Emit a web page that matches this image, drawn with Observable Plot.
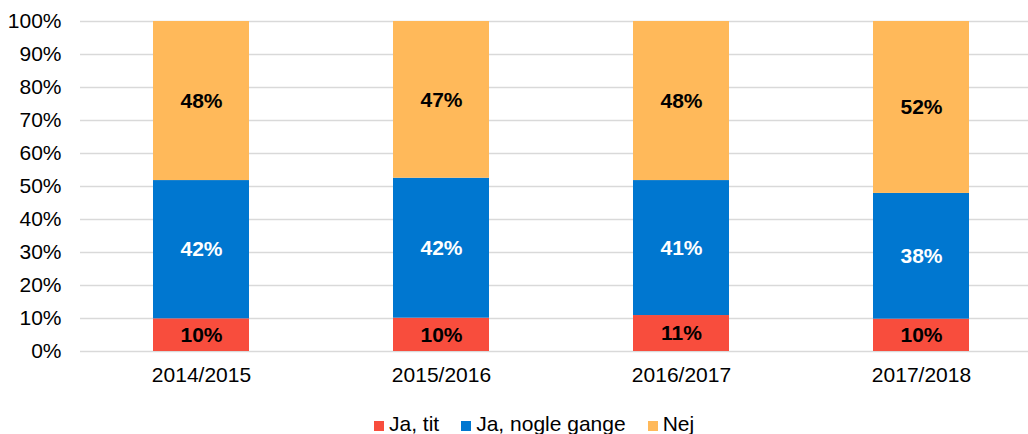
<!DOCTYPE html>
<html>
<head>
<meta charset="utf-8">
<script src="https://cdn.jsdelivr.net/npm/d3@7"></script>
<script src="https://cdn.jsdelivr.net/npm/@observablehq/plot@0.6"></script>
<style>
  html, body { margin: 0; padding: 0; background: #fff; }
  #chart svg { display: block; }
  #legend {
    height: 34px; overflow: hidden; box-sizing: border-box;
    padding-top: 13px; padding-left: 374px;
    font-family: "Liberation Sans", Arial, sans-serif; font-size: 21px; line-height: 21px;
    color: #000; white-space: nowrap;
  }
  #legend .item { display: inline-block; margin-right: 22px; }
  #legend .sw { display: inline-block; width: 10px; height: 10px; margin-right: 5px; vertical-align: baseline; }
</style>
</head>
<body>
<div id="chart"></div>
<div id="legend"></div>
<script>
const categories = ["2014/2015", "2015/2016", "2016/2017", "2017/2018"];
const seriesNames = ["Ja, tit", "Ja, nogle gange", "Nej"];
const jaTit = [9.9, 10.1, 10.9, 9.8];
const jaNogleGange = [41.9, 42.41, 40.9, 38.1];
const nej = [48.2, 47.49, 48.2, 52.1];
const colors = ["#F84D3D", "#0077D0", "#FFB95A"];
const labelColors = ["#000000", "#FFFFFF", "#000000"];
const yTicks = [0, 10, 20, 30, 40, 50, 60, 70, 80, 90, 100];

const seriesValues = [jaTit, jaNogleGange, nej];
const data = [];
seriesNames.forEach((s, si) => {
  categories.forEach((c, ci) => {
    data.push({category: c, series: s, value: seriesValues[si][ci], labelColor: labelColors[si]});
  });
});

const chart = Plot.plot({
  width: 1028,
  height: 400,
  marginLeft: 80,
  marginRight: 0,
  marginTop: 21,
  marginBottom: 49,
  style: {fontFamily: "'Liberation Sans', Arial, sans-serif", fontSize: "21px", color: "#000", background: "#fff"},
  x: {domain: categories, range: [80, 1042], paddingInner: 0.6, paddingOuter: 0.3, label: null},
  y: {domain: [0, 100], label: null},
  color: {domain: seriesNames, range: colors},
  marks: [
    Plot.axisY({ticks: yTicks, tickFormat: d => d + "%", tickSize: 0, tickPadding: 19, label: null}),
    Plot.gridY({ticks: yTicks, stroke: "#d9d9d9", strokeOpacity: 1, strokeWidth: 1.5}),
    Plot.axisX({tickSize: 0, tickPadding: 16, label: null}),
    Plot.barY(data, Plot.stackY({x: "category", y: "value", z: "series", fill: "series", order: seriesNames})),
    Plot.text(data, Plot.stackY({
      x: "category", y: "value", z: "series", order: seriesNames,
      text: d => Math.round(d.value) + "%",
      fill: "labelColor", fontWeight: "bold", fontSize: 21
    }))
  ]
});
document.getElementById("chart").appendChild(chart);

const legend = document.getElementById("legend");
seriesNames.forEach((s, i) => {
  const item = document.createElement("span");
  item.className = "item";
  const sw = document.createElement("span");
  sw.className = "sw";
  sw.style.background = colors[i];
  item.appendChild(sw);
  item.appendChild(document.createTextNode(s));
  legend.appendChild(item);
});
</script>
</body>
</html>
